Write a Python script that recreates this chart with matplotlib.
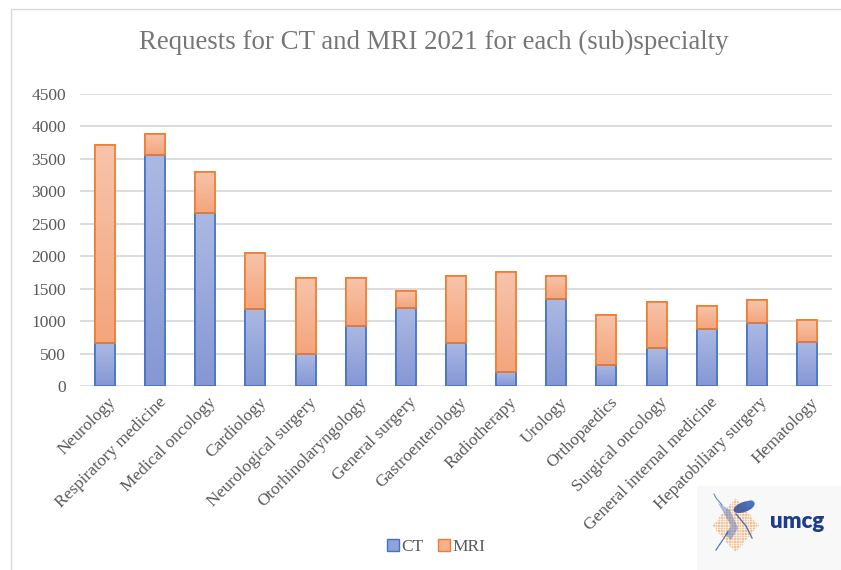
import numpy as np
import matplotlib
matplotlib.use("Agg")
import matplotlib.pyplot as plt
from matplotlib.colors import LinearSegmentedColormap
from matplotlib.patches import Rectangle, Patch, Ellipse, Polygon
from matplotlib.lines import Line2D

specialties = [
    "Neurology", "Respiratory medicine", "Medical oncology", "Cardiology",
    "Neurological surgery", "Otorhinolaryngology", "General surgery",
    "Gastroenterology", "Radiotherapy", "Urology", "Orthopaedics",
    "Surgical oncology", "General internal medicine", "Hepatobiliary surgery",
    "Hematology",
]
ct = [660, 3555, 2670, 1190, 490, 930, 1200, 665, 220, 1340, 325, 585, 875, 970, 685]
mri = [3050, 325, 635, 865, 1170, 730, 265, 1035, 1530, 360, 775, 715, 365, 350, 330]
y_ticks = [0, 500, 1000, 1500, 2000, 2500, 3000, 3500, 4000, 4500]

SERIF = ["Liberation Serif", "DejaVu Serif"]
TEXT_GREY = "#595959"

ct_cmap = LinearSegmentedColormap.from_list("ct", ["#8597d5", "#abb9e2"])
mri_cmap = LinearSegmentedColormap.from_list("mri", ["#f4a57c", "#f7c4ab"])

fig = plt.figure(figsize=(8.41, 5.70), dpi=100)
fig.patch.set_facecolor("white")
ax = fig.add_axes([80 / 841, 1 - 386 / 570, 752 / 841, 292 / 570])

x = np.arange(len(specialties))
width = 0.4
grad = np.linspace(0, 1, 256).reshape(-1, 1)

ct_bars = ax.bar(x, ct, width, color="#8ea2db", edgecolor="#4472c4",
                 linewidth=1.2, zorder=3)
mri_bars = ax.bar(x, mri, width, bottom=ct, color="#f5b08e",
                  edgecolor="#ed7d31", linewidth=1.2, zorder=3)

# vertical gradient fill inside every segment, lighter toward the top
for bars, cmap in ((ct_bars, ct_cmap), (mri_bars, mri_cmap)):
    for b in bars:
        x0, y0 = b.get_x(), b.get_y()
        w, h = b.get_width(), b.get_height()
        im = ax.imshow(grad, extent=[x0, x0 + w, y0, y0 + h], origin="lower",
                       cmap=cmap, aspect="auto", zorder=3.5, interpolation="bicubic")
        im.set_clip_path(b)
        edge = Rectangle((x0, y0), w, h, fill=False, edgecolor=b.get_edgecolor(),
                         linewidth=1.2, zorder=4)
        ax.add_patch(edge)

ax.set_xlim(-0.5, len(specialties) - 0.5)
ax.set_ylim(0, 4500)
ax.set_yticks(y_ticks)
ax.set_yticklabels([str(v) for v in y_ticks], fontfamily=SERIF,
                   fontsize=12.5, color=TEXT_GREY)
ax.yaxis.grid(True, color="#d9d9d9", linewidth=1.3, zorder=0)
ax.set_axisbelow(True)
ax.tick_params(axis="both", length=0)
ax.tick_params(axis="y", pad=10)
for s in ax.spines.values():
    s.set_visible(False)

ax.set_xticks(x)
ax.set_xticklabels([])
for xi, name in zip(x, specialties):
    ax.annotate(name, xy=(xi, 0), xycoords=("data", "axes fraction"),
                xytext=(2, -6), textcoords="offset points",
                rotation=45, rotation_mode="anchor", ha="right", va="top",
                fontfamily=SERIF, fontsize=12.5, color=TEXT_GREY)

fig.text(0.5155, 1 - 42 / 570, "Requests for CT and MRI 2021 for each (sub)specialty",
         ha="center", va="center", fontfamily=SERIF, fontsize=19.4, color="#767676")

# legend
handles = [Patch(facecolor="#8ea2db", edgecolor="#4472c4", label="CT"),
           Patch(facecolor="#f5b08e", edgecolor="#ed7d31", label="MRI")]
fig.legend(handles=handles, loc="center", bbox_to_anchor=(436 / 841, 1 - 547 / 570),
           ncol=2, frameon=False, handlelength=0.7, handleheight=0.7,
           handletextpad=0.15, columnspacing=0.8,
           prop={"family": SERIF, "size": 12.5}, labelcolor=TEXT_GREY)

# chart-area outline (left and top edges)
fig.add_artist(Line2D([11 / 841, 11 / 841, 1.0], [0.0, 1 - 9 / 570, 1 - 9 / 570],
                      transform=fig.transFigure, color="#d9d9d9", linewidth=1.0))

# UMCG logo
lax = fig.add_axes([697 / 841, 0, 144 / 841, 84 / 570])
lax.set_xlim(697, 841)
lax.set_ylim(570, 486)
lax.axis("off")
lax.add_patch(Rectangle((697, 486), 144, 84, facecolor="#f8f8f8", edgecolor="none"))
gx, gy = np.meshgrid(np.arange(708, 764, 1.6), np.arange(496, 554, 1.6))
cx, cy = 735, 525
mask = (np.abs(gx - cx) / 23 + np.abs(gy - cy) / 27) < 1
lax.scatter(gx[mask], gy[mask], s=1.2, color="#f0a45c", alpha=0.55, linewidths=0)
lax.add_patch(Ellipse((744, 507), 22, 10, angle=-20, facecolor="#2a4fa0",
                      edgecolor="none", alpha=0.85))
lax.add_patch(Ellipse((750, 504), 9, 7, angle=-20, facecolor="#4a72c0",
                      edgecolor="none"))
lax.add_patch(Polygon([[718, 503], [730, 510], [738, 528], [731, 540], [725, 534],
                       [731, 526], [725, 515]], closed=True, facecolor="#4a6fb8",
                      edgecolor="none", alpha=0.45))
lax.plot([736, 746, 752], [514, 526, 538], color="#3557a5", linewidth=1.0, alpha=0.8)
lax.plot([728, 720, 716], [532, 544, 550], color="#3557a5", linewidth=0.9, alpha=0.8)
lax.plot([722, 716, 714], [505, 498, 494], color="#3557a5", linewidth=0.8, alpha=0.7)
lax.text(797, 522, "umcg", ha="center", va="center", fontsize=16,
         fontweight="heavy", color="#1e3c8c", fontfamily="Lato")

fig.savefig("out.png", dpi=100, facecolor="white")
